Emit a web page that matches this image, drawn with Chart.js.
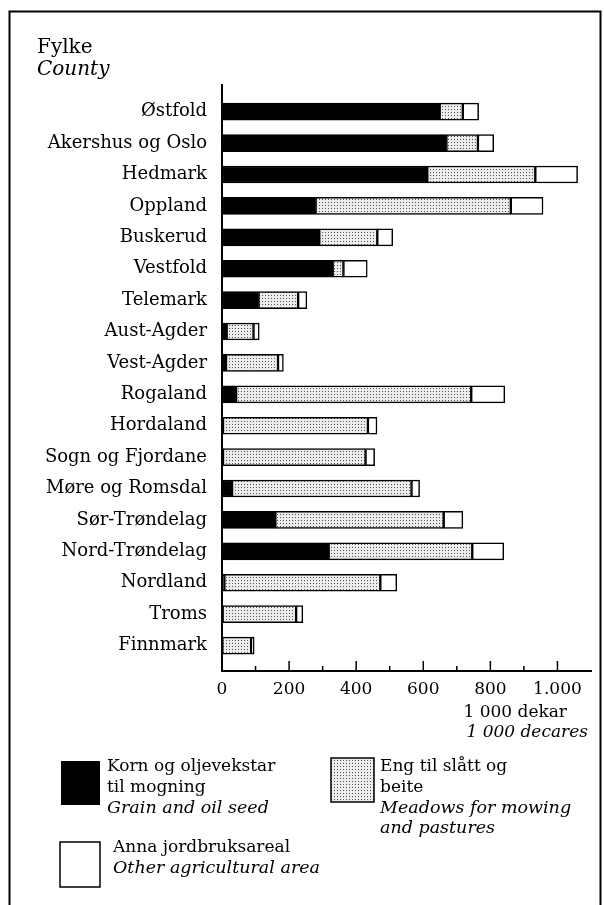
<!DOCTYPE html>
<html>
<head>
<meta charset="utf-8">
<script src="https://cdn.jsdelivr.net/npm/chart.js@4.4.1/dist/chart.umd.min.js"></script>
<style>
  html, body { margin: 0; padding: 0; background: #fff; }
</style>
</head>
<body>
<canvas id="areaChart" width="604" height="905"></canvas>
<script>
// fylke / county
var counties = [
  "Østfold", "Akershus og Oslo", "Hedmark", "Oppland", "Buskerud", "Vestfold",
  "Telemark", "Aust-Agder", "Vest-Agder", "Rogaland", "Hordaland", "Sogn og Fjordane",
  "Møre og Romsdal", "Sør-Trøndelag", "Nord-Trøndelag", "Nordland", "Troms", "Finnmark"
];
// 1 000 dekar
var grain   = [649, 669, 612, 279, 290, 330, 109, 14, 12, 42, 3, 3, 30, 159, 318, 7, 2, 1];
var meadows = [69, 94, 322, 582, 173, 32, 118, 80, 155, 701, 432, 425, 535, 502, 428, 465, 219, 86];
var other   = [47, 47, 126, 96, 46, 71, 26, 17, 16, 100, 27, 27, 24, 57, 94, 49, 20, 9];

var xTickLabels = { 0: "0", 200: "200", 400: "400", 600: "600", 800: "800", 1000: "1.000" };

var legendNo = [["Korn og oljevekstar", "til mogning"], ["Eng til slått og", "beite"], ["Anna jordbruksareal"]];
var legendEn = [["Grain and oil seed"], ["Meadows for mowing", "and pastures"], ["Other agricultural area"]];

var FONT = "'DejaVu Serif', serif";

// stippled fill for meadows
function dotPattern() {
  var p = document.createElement('canvas');
  p.width = 3; p.height = 3;
  var pc = p.getContext('2d');
  pc.fillStyle = '#ececec';
  pc.fillRect(0, 0, 3, 3);
  pc.fillStyle = '#555';
  pc.fillRect(1, 1, 1, 1);
  return pc.createPattern(p, 'repeat');
}

function points(arr) {
  return arr.map(function (v, i) { return { x: v, y: i }; });
}

var decorations = {
  id: 'decorations',
  afterDraw: function (chart) {
    var ctx = chart.ctx;
    var xs = chart.scales.x;
    ctx.save();

    // frame
    ctx.strokeStyle = '#000';
    ctx.lineWidth = 2;
    ctx.beginPath();
    ctx.moveTo(9.5, 905);
    ctx.lineTo(9.5, 11.5);
    ctx.lineTo(600.5, 11.5);
    ctx.lineTo(600.5, 905);
    ctx.stroke();

    // small ticks on the value axis
    ctx.lineWidth = 1.5;
    ctx.beginPath();
    for (var v = 100; v <= 1000; v += 100) {
      var px = xs.getPixelForValue(v);
      ctx.moveTo(px, xs.top);
      ctx.lineTo(px, xs.top - (v % 200 === 0 ? 10 : 5));
    }
    ctx.stroke();

    ctx.fillStyle = '#000';
    ctx.textBaseline = 'middle';
    ctx.textAlign = 'left';
    ctx.font = '20px ' + FONT;
    ctx.fillText('Fylke', 37, 48);
    ctx.font = 'italic 20px ' + FONT;
    ctx.fillText('County', 37, 70);

    ctx.textAlign = 'right';
    ctx.font = '17px ' + FONT;
    ctx.fillText('1 000 dekar', 567, 713);
    ctx.font = 'italic 17px ' + FONT;
    ctx.fillText('1 000 decares', 588, 733);

    // legend
    ctx.textAlign = 'left';
    ctx.fillStyle = '#000';
    ctx.fillRect(61, 761, 39, 44);
    ctx.fillStyle = dotPattern();
    ctx.fillRect(331, 758, 43, 44);
    ctx.strokeRect(331, 758, 43, 44);
    ctx.fillStyle = '#fff';
    ctx.fillRect(60, 842, 40, 45);
    ctx.strokeRect(60, 842, 40, 45);

    var spots = [[107, 767], [380, 767], [113, 848]];
    ctx.fillStyle = '#000';
    for (var k = 0; k < 3; k++) {
      var y = spots[k][1];
      ctx.font = '17px ' + FONT;
      legendNo[k].forEach(function (t) { ctx.fillText(t, spots[k][0], y); y += 20.5; });
      ctx.font = 'italic 17.5px ' + FONT;
      legendEn[k].forEach(function (t) { ctx.fillText(t, spots[k][0], y); y += 20.5; });
    }
    ctx.restore();
  }
};

Chart.defaults.font.family = FONT;
Chart.defaults.color = '#000';

var barBase = { borderColor: '#000', borderWidth: 1.5, borderSkipped: false, barThickness: 17 };

new Chart(document.getElementById('areaChart'), {
  type: 'bar',
  data: {
    datasets: [
      Object.assign({ label: 'Korn og oljevekstar til mogning', data: points(grain), backgroundColor: '#000' }, barBase),
      Object.assign({ label: 'Eng til slått og beite', data: points(meadows), backgroundColor: dotPattern() }, barBase),
      Object.assign({ label: 'Anna jordbruksareal', data: points(other), backgroundColor: '#fff' }, barBase)
    ]
  },
  options: {
    indexAxis: 'y',
    responsive: false,
    animation: false,
    layout: { padding: { top: 85, right: 13, left: 0, bottom: 0 } },
    plugins: { legend: { display: false }, tooltip: { enabled: false } },
    scales: {
      x: {
        type: 'linear',
        position: 'bottom',
        min: 0,
        max: 1100,
        stacked: true,
        grid: { display: false, drawTicks: false },
        border: { display: true, color: '#000', width: 2 },
        ticks: {
          stepSize: 200,
          includeBounds: false,
          autoSkip: false,
          maxRotation: 0,
          padding: 8,
          font: { size: 17 },
          callback: function (v) { return xTickLabels[v] !== undefined ? xTickLabels[v] : ''; }
        },
        afterFit: function (s) { s.height = 234; }
      },
      y: {
        type: 'linear',
        reverse: true,
        offset: false,
        min: -0.85,
        max: 17.81,
        stacked: true,
        grid: { display: false, drawTicks: false, offset: false },
        border: { display: true, color: '#000', width: 2 },
        afterBuildTicks: function (s) {
          s.ticks = counties.map(function (c, i) { return { value: i }; });
        },
        ticks: {
          autoSkip: false,
          padding: 15,
          font: { size: 18 },
          callback: function (v) { return counties[v]; }
        },
        afterFit: function (s) { s.width = 222; }
      }
    }
  },
  plugins: [decorations]
});
</script>
</body>
</html>
